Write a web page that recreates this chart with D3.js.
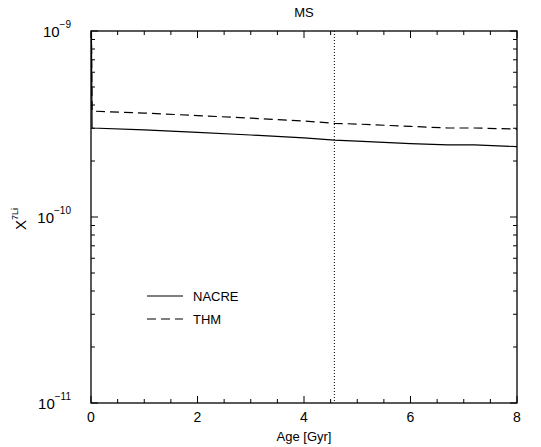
<!DOCTYPE html>
<html><head><meta charset="utf-8">
<script src="https://cdn.jsdelivr.net/npm/d3@7"></script>
<style>body{margin:0;background:#fff}svg{display:block}text{font-family:"Liberation Sans",Arial,sans-serif;fill:#000}</style>
</head><body><svg id="c" width="541" height="447"></svg>
<script>
const ages = [0, 0.02, 1, 2, 3, 4, 4.57, 5, 6, 6.7, 7.2, 8];
const nacre = [2e-9, 3.01e-10, 2.94e-10, 2.85e-10, 2.76e-10, 2.66e-10, 2.59e-10, 2.56e-10, 2.48e-10, 2.44e-10, 2.44e-10, 2.39e-10];
const thm = [2e-9, 3.71e-10, 3.62e-10, 3.51e-10, 3.40e-10, 3.28e-10, 3.19e-10, 3.16e-10, 3.07e-10, 3.01e-10, 3.01e-10, 2.97e-10];
const sunAge = 4.57;
const xTicks = [0, 2, 4, 6, 8];
const yDecades = [-11, -10, -9];
const seriesNames = ["NACRE", "THM"];
const titleText = "MS";
const xLabel = "Age [Gyr]";

const L = 91, R = 517, T = 31, B = 403;
const svg = d3.select("#c");
const x = d3.scaleLinear().domain([0, 8]).range([L, R]);
const y = d3.scaleLog().domain([1e-11, 1e-9]).range([B, T]);

svg.append("defs").append("clipPath").attr("id", "clip")
  .append("rect").attr("x", L).attr("y", T).attr("width", R - L).attr("height", B - T);

const g = svg.append("g");
const xMinor = d3.range(0, 8.01, 0.5);
const yMinor = [];
for (let d = -11; d < -9; d++) for (let m = 2; m <= 9; m++) yMinor.push(m * Math.pow(10, d));

function ticks(sel) { sel.attr("stroke", "#000").attr("stroke-width", 1); }
xMinor.forEach(v => {
  const major = xTicks.includes(v);
  const len = major ? 7 : 4;
  ticks(g.append("line").attr("x1", x(v)).attr("x2", x(v)).attr("y1", B).attr("y2", B - len));
  ticks(g.append("line").attr("x1", x(v)).attr("x2", x(v)).attr("y1", T).attr("y2", T + len));
});
yMinor.forEach(v => {
  ticks(g.append("line").attr("x1", L).attr("x2", L + 4).attr("y1", y(v)).attr("y2", y(v)));
  ticks(g.append("line").attr("x1", R).attr("x2", R - 4).attr("y1", y(v)).attr("y2", y(v)));
});
yDecades.forEach(d => {
  const v = Math.pow(10, d);
  ticks(g.append("line").attr("x1", L).attr("x2", L + 7).attr("y1", y(v)).attr("y2", y(v)));
  ticks(g.append("line").attr("x1", R).attr("x2", R - 7).attr("y1", y(v)).attr("y2", y(v)));
});

g.append("line").attr("x1", x(sunAge)).attr("x2", x(sunAge)).attr("y1", T).attr("y2", B)
  .attr("stroke", "#000").attr("stroke-width", 1).attr("stroke-dasharray", "1,2");

const line = d3.line().x((d, i) => x(ages[i])).y(d => y(d));
const cg = svg.append("g").attr("clip-path", "url(#clip)");
cg.append("path").attr("d", line(nacre)).attr("fill", "none").attr("stroke", "#000").attr("stroke-width", 1.2);
cg.append("path").attr("d", line(thm)).attr("fill", "none").attr("stroke", "#000").attr("stroke-width", 1.2).attr("stroke-dasharray", "9,5");

svg.append("rect").attr("x", L).attr("y", T).attr("width", R - L).attr("height", B - T)
  .attr("fill", "none").attr("stroke", "#000").attr("stroke-width", 1.3);

xTicks.forEach(v => {
  svg.append("text").attr("x", x(v)).attr("y", B + 19).attr("text-anchor", "middle")
    .attr("font-size", 14).text(v);
});
yDecades.forEach(d => {
  const t = svg.append("text").attr("x", 71).attr("y", y(Math.pow(10, d)) + 6).attr("text-anchor", "end").attr("font-size", 15);
  t.append("tspan").text("10");
  t.append("tspan").attr("dy", -9).attr("font-size", 10).text("\u2212" + Math.abs(d));
});
svg.append("text").attr("x", (L + R) / 2).attr("y", 17).attr("text-anchor", "middle").attr("font-size", 13).text(titleText);
svg.append("text").attr("x", (L + R) / 2).attr("y", 441).attr("text-anchor", "middle").attr("font-size", 13).text(xLabel);
const yl = svg.append("text").attr("transform", "translate(26,230) rotate(-90)").attr("text-anchor", "start").attr("font-size", 15);
yl.append("tspan").text("X");
yl.append("tspan").attr("dy", -8).attr("font-size", 9).text("7Li");

const lg = svg.append("g");
[0, 1].forEach(i => {
  const ly = 296 + i * 23;
  lg.append("line").attr("x1", 147).attr("x2", 183).attr("y1", ly).attr("y2", ly)
    .attr("stroke", "#000").attr("stroke-width", 1.2).attr("stroke-dasharray", i ? "9,5" : null);
  lg.append("text").attr("x", 193).attr("y", ly + 5).attr("font-size", 13).text(seriesNames[i]);
});
</script></body></html>
